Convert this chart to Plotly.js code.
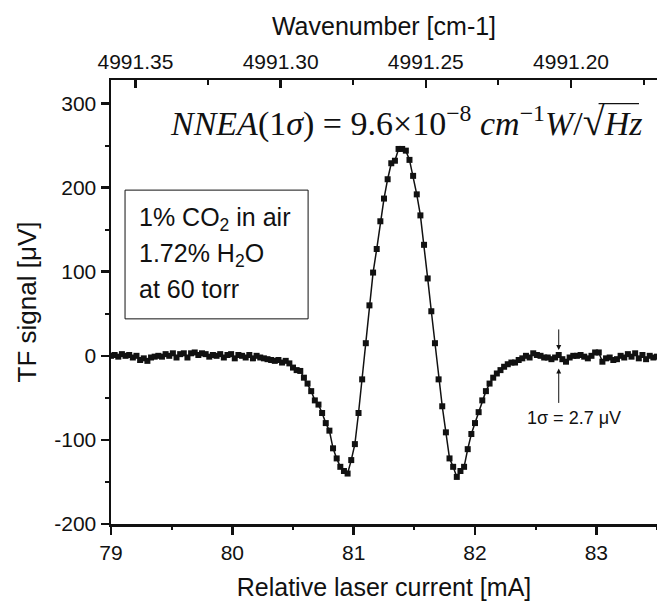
<!DOCTYPE html>
<html>
<head>
<meta charset="utf-8">
<script src="https://cdn.plot.ly/plotly-3.0.1.min.js"></script>
<style>html,body{margin:0;padding:0;background:#fff;}#chart{width:657px;height:601px;}</style>
</head>
<body>
<div id="chart"></div>
<script>
// Relative laser current [mA]
const current = [
  79.00, 79.03, 79.06, 79.09, 79.12, 79.15, 79.18, 79.21, 79.24, 79.27,
  79.30, 79.33, 79.36, 79.39, 79.42, 79.45, 79.48, 79.51, 79.54, 79.57,
  79.60, 79.63, 79.66, 79.69, 79.72, 79.75, 79.78, 79.81, 79.84, 79.87,
  79.90, 79.93, 79.96, 79.99, 80.02, 80.05, 80.08, 80.11, 80.14, 80.17,
  80.20, 80.23, 80.26, 80.29, 80.32, 80.35, 80.38, 80.41, 80.44, 80.47,
  80.50, 80.53, 80.56, 80.59, 80.62, 80.65, 80.68, 80.71, 80.74, 80.77,
  80.80, 80.83, 80.86, 80.89, 80.92, 80.95, 80.98, 81.01, 81.04, 81.07,
  81.10, 81.13, 81.16, 81.19, 81.22, 81.25, 81.28, 81.31, 81.34, 81.37,
  81.40, 81.43, 81.46, 81.49, 81.52, 81.55, 81.58, 81.61, 81.64, 81.67,
  81.70, 81.73, 81.76, 81.79, 81.82, 81.85, 81.88, 81.91, 81.94, 81.97,
  82.00, 82.03, 82.06, 82.09, 82.12, 82.15, 82.18, 82.21, 82.24, 82.27,
  82.30, 82.33, 82.36, 82.39, 82.42, 82.45, 82.48, 82.51, 82.54, 82.57,
  82.60, 82.63, 82.66, 82.69, 82.72, 82.75, 82.78, 82.81, 82.84, 82.87,
  82.90, 82.93, 82.96, 82.99, 83.02, 83.05, 83.08, 83.11, 83.14, 83.17,
  83.20, 83.23, 83.26, 83.29, 83.32, 83.35, 83.38, 83.41, 83.44, 83.47,
  83.50
];
// TF signal [uV]
const signal = [
  0, 1, -1, 2, 0, 1, -2, 0, -5, -3,
  -6, -2, -1, 0, -1, 2, 0, 3, -2, 2,
  3, -2, 3, 4, 1, 3, 2, -1, 1, 0,
  2, -2, 1, 2, -3, 1, 0, -2, 1, -3,
  0, -2, -3, -4, -5, -6, -5, -8, -6, -9,
  -14, -17, -18, -26, -33, -42, -53, -58, -68, -80,
  -89, -110, -122, -132, -137, -140, -124, -105, -68, -28,
  15, 60, 99, 127, 160, 187, 210, 229, 232, 246,
  246, 244, 233, 214, 192, 167, 132, 92, 53, 15,
  -28, -60, -91, -122, -132, -144, -137, -132, -111, -93,
  -80, -67, -53, -42, -33, -26, -21, -17, -13, -10,
  -8, -8, -5, -3, 0, -2, 3, 1, 0, -2,
  -2, -4, -2, 1, -4, -7, -2, 0, 0, 1,
  -1, -3, 0, 4, 4, -7, -3, -2, -5, -4,
  0, -2, 2, -1, 3, -3, 1, -4, 0, -2,
  -1
];
const xRange = [79, 83.5];
const yRange = [-200, 328];
const yTickVals = [-200, -100, 0, 100, 200, 300];
const yTickText = ["-200", "-100", "0", "100", "200", "300"];
const wavenumberRange = [4991.3584, 4991.1704];
const boxLines = ["1% CO<sub>2</sub> in air", "1.72% H<sub>2</sub>O", "at 60 torr"];
const noteSigma = "1σ = 2.7 μV";
const sigmaX = 82.69;

const SANS = '"Liberation Sans", Arial, sans-serif';
const SERIF = '"Liberation Serif", "Times New Roman", serif';
const INK = '#111111';

const traces = [
  {
    x: current, y: signal, type: 'scatter', mode: 'lines+markers',
    line: {color: INK, width: 1.5},
    marker: {symbol: 'square', size: 6, color: INK},
    showlegend: false, hoverinfo: 'skip'
  },
  {x: [], y: [], xaxis: 'x2', yaxis: 'y', type: 'scatter', showlegend: false},
  {x: [], y: [], xaxis: 'x3', yaxis: 'y', type: 'scatter', showlegend: false},
  {x: [], y: [], xaxis: 'x4', yaxis: 'y', type: 'scatter', showlegend: false},
  {x: [], y: [], xaxis: 'x', yaxis: 'y2', type: 'scatter', showlegend: false}
];

const annotations = [
  {
    xref: 'paper', yref: 'paper', x: 0.5412, y: 0.906, xanchor: 'center', yanchor: 'middle',
    showarrow: false,
    text: '<i>NNEA</i>(1<i>σ</i>) = 9.6×10<sup>−8</sup> <i>cm</i><sup>−1</sup><i>W</i>/<span style="font-size:40px">√</span><i>Hz</i>',
    font: {family: SERIF, size: 34, color: INK}
  },
  {
    xref: 'x', yref: 'y', x: sigmaX, y: 7, ax: 0, ay: -22, showarrow: true,
    arrowhead: 2, arrowsize: 1, arrowwidth: 1, arrowcolor: INK, text: ''
  },
  {
    xref: 'x', yref: 'y', x: sigmaX, y: -15, ax: 0, ay: 36, showarrow: true,
    arrowhead: 2, arrowsize: 1, arrowwidth: 1, arrowcolor: INK, text: ''
  },
  {
    xref: 'x', yref: 'y', x: 82.82, y: -74, showarrow: false, xanchor: 'center', yanchor: 'middle',
    text: noteSigma, font: {family: SANS, size: 18, color: INK}
  }
];
const boxY = [0.687, 0.606, 0.529];
boxLines.forEach((t, i) => annotations.push({
  xref: 'paper', yref: 'paper', x: 0.048, y: boxY[i], xanchor: 'left', yanchor: 'middle',
  showarrow: false, text: t, font: {family: SANS, size: 25, color: INK}
}));

const minorX = {
  overlaying: 'x', anchor: 'y', range: xRange, showgrid: false, zeroline: false,
  showline: false, showticklabels: false, ticks: 'outside', ticklen: 5, tickwidth: 2, tickcolor: INK,
  tickmode: 'linear', tick0: 79.5, dtick: 1
};

const layout = {
  width: 657, height: 601,
  margin: {l: 111, r: 0, t: 80, b: 77},
  paper_bgcolor: '#ffffff', plot_bgcolor: '#ffffff',
  font: {family: SANS, color: INK},
  showlegend: false,
  xaxis: {
    range: xRange, showgrid: false, zeroline: false,
    showline: true, linecolor: INK, linewidth: 2.5,
    ticks: 'outside', ticklen: 8, tickwidth: 2.5, tickcolor: INK,
    tickmode: 'linear', tick0: 79, dtick: 1,
    tickfont: {family: SANS, size: 21, color: INK},
    title: {text: 'Relative laser current [mA]', font: {family: SANS, size: 25, color: INK}, standoff: 16}
  },
  xaxis3: Object.assign({side: 'bottom'}, minorX),
  xaxis2: {
    overlaying: 'x', side: 'top', anchor: 'y',
    range: wavenumberRange, showgrid: false, zeroline: false,
    showline: true, linecolor: INK, linewidth: 2.5,
    ticks: 'inside', ticklen: 8, tickwidth: 2.5, tickcolor: INK,
    tickmode: 'linear', tick0: 4991.2, dtick: 0.05, tickformat: '.2f',
    tickfont: {family: SANS, size: 21, color: INK},
    title: {text: 'Wavenumber [cm-1]', font: {family: SANS, size: 25, color: INK}, standoff: 8}
  },
  xaxis4: {
    overlaying: 'x', side: 'top', anchor: 'y',
    range: wavenumberRange, showgrid: false, zeroline: false,
    showline: false, showticklabels: false,
    ticks: 'inside', ticklen: 5, tickwidth: 2, tickcolor: INK,
    tickmode: 'linear', tick0: 4991.175, dtick: 0.05
  },
  yaxis: {
    range: yRange, showgrid: false, zeroline: false,
    showline: true, linecolor: INK, linewidth: 2.5,
    ticks: 'outside', ticklen: 8, tickwidth: 2.5, tickcolor: INK,
    tickmode: 'array', tickvals: yTickVals, ticktext: yTickText,
    tickfont: {family: SANS, size: 21, color: INK},
    title: {text: 'TF signal [μV]', font: {family: SANS, size: 26, color: INK}, standoff: 10}
  },
  yaxis2: {
    overlaying: 'y', side: 'left', anchor: 'x', range: yRange,
    showgrid: false, zeroline: false, showline: false, showticklabels: false,
    ticks: 'outside', ticklen: 5, tickwidth: 2, tickcolor: INK,
    tickmode: 'linear', tick0: -150, dtick: 100
  },
  annotations: annotations,
  shapes: [
    {type: 'rect', xref: 'paper', yref: 'paper', x0: 0.0257, x1: 0.361, y0: 0.462, y1: 0.752,
     line: {color: INK, width: 1}, fillcolor: 'rgba(0,0,0,0)'},
    {type: 'line', xref: 'paper', yref: 'paper', x0: 0.893, x1: 0.967, y0: 0.947, y1: 0.947,
     line: {color: INK, width: 1.2}}
  ]
};

Plotly.newPlot('chart', traces, layout, {displayModeBar: false, staticPlot: true});
</script>
</body>
</html>
